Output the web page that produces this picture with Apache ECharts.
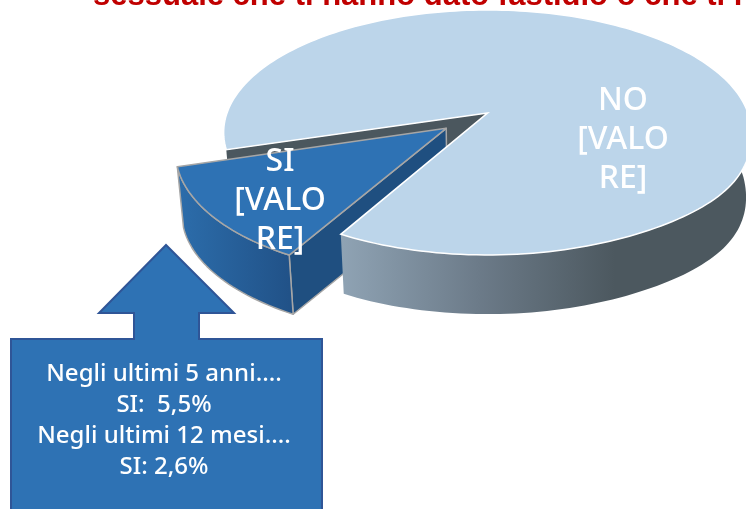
<!DOCTYPE html>
<html><head><meta charset="utf-8">
<style>html,body{margin:0;padding:0;background:#fff;overflow:hidden}#c{width:746px;height:509px}</style>
<script src="https://cdn.jsdelivr.net/npm/echarts@6/dist/echarts.min.js"></script>
</head><body><div id="c"></div>
<script>
// ---- data ----
const categories = ['SI', 'NO'];
const shareValues = [12.2, 87.8];
const sliceLabels = ['SI\n[VALO\nRE]', 'NO\n[VALO\nRE]'];
const titleText = 'sessuale che ti hanno dato fastidio o che ti hanno';
const calloutLines = ['Negli ultimi 5 anni....', 'SI:  5,5%', 'Negli ultimi 12 mesi....', 'SI: 2,6%'];

// ---- layout ----
const FONT = '"Noto Sans", sans-serif';
const cx = 487.5, cy = 113, rx = 260.5, ry = 119.4, persp = 0.159;
const baseScale = 0.98, depth = 62, explode = 0.2, startAngle = 119;
const labelAt = [[280, 201], [623, 139.5]];
const rad = d => d * Math.PI / 180;
const total = shareValues.reduce((a, b) => a + b, 0);

function project(u, v) {
  const w = 1 - persp * v;
  // the source's front-right rim sags slightly below a true ellipse
  const sag = 22 * Math.pow(Math.max(u, 0), 5) * Math.max(v, 0);
  return [cx + rx * u / w, cy + ry * v / w + sag];
}
function lower(p) {
  return [cx + baseScale * (p[0] - cx), cy + depth + baseScale * (p[1] - cy)];
}
function rim(a0, a1, ox, oy) {
  const pts = [], n = Math.max(6, Math.ceil(Math.abs(a1 - a0) / 1.5));
  for (let i = 0; i <= n; i++) {
    const a = rad(a0 + (a1 - a0) * i / n);
    pts.push(project(Math.cos(a) + ox, Math.sin(a) + oy));
  }
  return pts;
}
const hGrad = (x0, x1, stops) => new echarts.graphic.LinearGradient(x0, 0, x1, 0, stops, true);

function renderSlice(params, api) {
  const i = params.dataIndex;
  let a0 = startAngle;
  for (let k = 0; k < i; k++) a0 += shareValues[k] / total * 360;
  const a1 = a0 + api.value(0) / total * 360;
  const children = [];
  const poly = (points, style, z2) => children.push({ type: 'polygon', z2, shape: { points }, style });

  if (i === 0) {
    const mid = rad((a0 + a1) / 2);
    const ox = explode * Math.cos(mid), oy = explode * Math.sin(mid);
    const apex = project(ox, oy), arc = rim(a0, a1, ox, oy);
    const edge = { stroke: '#a6a6a6', lineWidth: 1.5, lineJoin: 'round' };
    const xs = arc.map(p => p[0]);
    // outer wall
    poly(arc.concat(arc.map(lower).reverse()),
      Object.assign({ fill: hGrad(Math.min(...xs), Math.max(...xs), [{ offset: 0, color: '#2c6dab' }, { offset: 1, color: '#215288' }]) }, edge), 3);
    // inner wall
    poly([apex, arc[0], lower(arc[0]), lower(apex)], Object.assign({ fill: '#1f4f80' }, edge), 2);
    // top
    poly([apex].concat(arc), Object.assign({ fill: '#2e72b4' }, edge), 4);
  } else {
    const arc = rim(a0, a1, 0, 0), apex = project(0, 0);
    const left = arc[0];
    // cut face seen behind the pulled-out slice
    poly([apex, left, lower(left), lower(apex)], { fill: '#4b575e' }, 1);
    // front wall: from the far right of the rim round to the cut
    const frontArc = rim(355, a1, 0, 0);
    const wallX0 = frontArc[frontArc.length - 1][0];
    poly(frontArc.concat(frontArc.map(lower).reverse()), {
      fill: hGrad(wallX0, 615, [{ offset: 0, color: '#8fa3b4' }, { offset: 0.5, color: '#6c7b89' }, { offset: 1, color: '#4c585f' }])
    }, 5);
    // top
    poly([apex].concat(arc), { fill: '#bcd5ea', stroke: '#ffffff', lineWidth: 1.5, lineJoin: 'miter' }, 6);
  }
  children.push({
    type: 'text', z2: 10,
    style: {
      text: sliceLabels[i], x: labelAt[i][0], y: labelAt[i][1], fill: '#ffffff',
      font: '500 32px ' + FONT, lineHeight: 39, align: 'center', verticalAlign: 'middle'
    }
  });
  return { type: 'group', children };
}

const chart = echarts.init(document.getElementById('c'), null, { renderer: 'canvas' });
chart.setOption({
  animation: false,
  backgroundColor: '#ffffff',
  title: {
    text: titleText, left: 93, top: -24, padding: 0,
    textStyle: { color: '#c00000', fontFamily: '"Liberation Sans", sans-serif', fontSize: 31, fontWeight: 'bold', lineHeight: 40 }
  },
  series: [{
    type: 'custom', coordinateSystem: 'none', clip: false, silent: true,
    renderItem: renderSlice,
    data: categories.map((name, i) => ({ name, value: [shareValues[i]] }))
  }],
  graphic: [{
    type: 'polygon', z: 20, silent: true,
    shape: { points: [[166, 245], [99, 313], [134, 313], [134, 339], [11, 339], [11, 530], [322, 530], [322, 339], [199, 339], [199, 313], [234, 313]] },
    style: { fill: '#2e72b4', stroke: '#2f5597', lineWidth: 2 }
  }, {
    type: 'text', z: 21, silent: true,
    style: {
      text: calloutLines.join('\n'), x: 164, y: 420.5, fill: '#ffffff',
      font: '500 24px ' + FONT, lineHeight: 31, align: 'center', verticalAlign: 'middle'
    }
  }]
});
</script></body></html>
